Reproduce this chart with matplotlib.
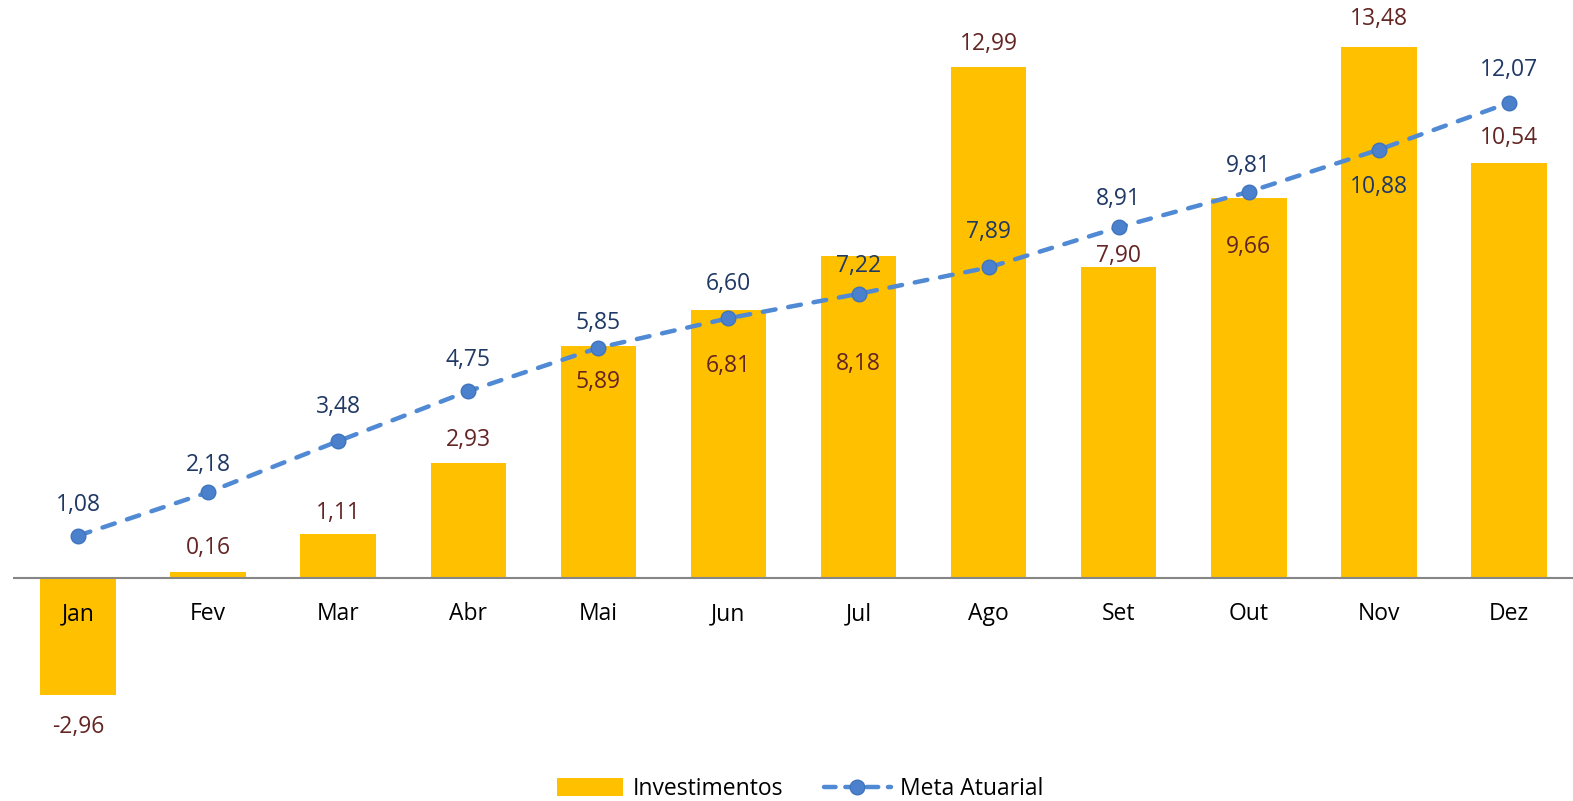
import matplotlib
matplotlib.use("Agg")
import matplotlib.pyplot as plt
from matplotlib.lines import Line2D
from matplotlib.patches import Patch

plt.rcParams['font.family'] = ['Open Sans', 'DejaVu Sans']

months = ["Jan", "Fev", "Mar", "Abr", "Mai", "Jun", "Jul", "Ago", "Set", "Out", "Nov", "Dez"]
investimentos = [-2.96, 0.16, 1.11, 2.93, 5.89, 6.81, 8.18, 12.99, 7.90, 9.66, 13.48, 10.54]
meta_atuarial = [1.08, 2.18, 3.48, 4.75, 5.85, 6.60, 7.22, 7.89, 8.91, 9.81, 10.88, 12.07]

# label offsets in pixels (style only)
bar_label_off = [-32, 24, 21, 23, -36, -56, -108, 23, 11, -49, 28, 25]
line_label_off = [31, 27, 34, 31, 25, 34, 28, 35, 28, 26, -37, 33]

W, H = 1573, 801
fig = plt.figure(figsize=(W / 100, H / 100), dpi=100)
ax = fig.add_axes([13 / W, 0, 1561 / W, 1])
ax.set_xlim(-0.5, 11.5)
ax.set_ylim(-5.656, 14.68)
ax.axis('off')

bar_color = "#FFC000"
line_color = "#5089D4"
marker_color = "#4A80CC"
bar_txt = "#632523"
line_txt = "#1F3864"
fs = 16.5

x = list(range(len(months)))
ax.bar(x, investimentos, width=0.58, color=bar_color, zorder=2)
ax.axhline(0, color="#868686", lw=1.5, zorder=3)
ln, = ax.plot(x, meta_atuarial, color=line_color, lw=3.2, zorder=4,
              marker='o', markersize=10.5, markerfacecolor=marker_color,
              markeredgecolor="#3F74BE", markeredgewidth=1,
              dash_capstyle='round')
ln.set_dashes((2.9, 2.9))

def fmt(v):
    return f"{v:.2f}".replace(".", ",")

for i, v in enumerate(investimentos):
    ax.annotate(fmt(v), (i, v), xytext=(0, bar_label_off[i]), textcoords='offset pixels',
                ha='center', va='center', fontsize=fs, color=bar_txt, zorder=6)
for i, v in enumerate(meta_atuarial):
    ax.annotate(fmt(v), (i, v), xytext=(0, line_label_off[i]), textcoords='offset pixels',
                ha='center', va='center', fontsize=fs, color=line_txt, zorder=6)
for i, m in enumerate(months):
    ax.annotate(m, (i, 0), xytext=(0, -36), textcoords='offset pixels',
                ha='center', va='center', fontsize=fs, color="black", zorder=6)

h_bar = Patch(facecolor=bar_color, edgecolor='none')
h_line = Line2D([], [], color=line_color, lw=3.2, marker='o', markersize=10.5,
                markerfacecolor=marker_color, markeredgecolor="#3F74BE",
                dash_capstyle='round', dashes=(2.6, 2.2))
fig.legend([h_bar, h_line], ["Investimentos", "Meta Atuarial"], loc='center',
           bbox_to_anchor=(800 / W, 1 - 789 / H), ncol=2, frameon=False,
           fontsize=fs, handlelength=2.9, handleheight=0.8, columnspacing=1.8,
           handletextpad=0.4)

fig.savefig("out.png", dpi=100)
